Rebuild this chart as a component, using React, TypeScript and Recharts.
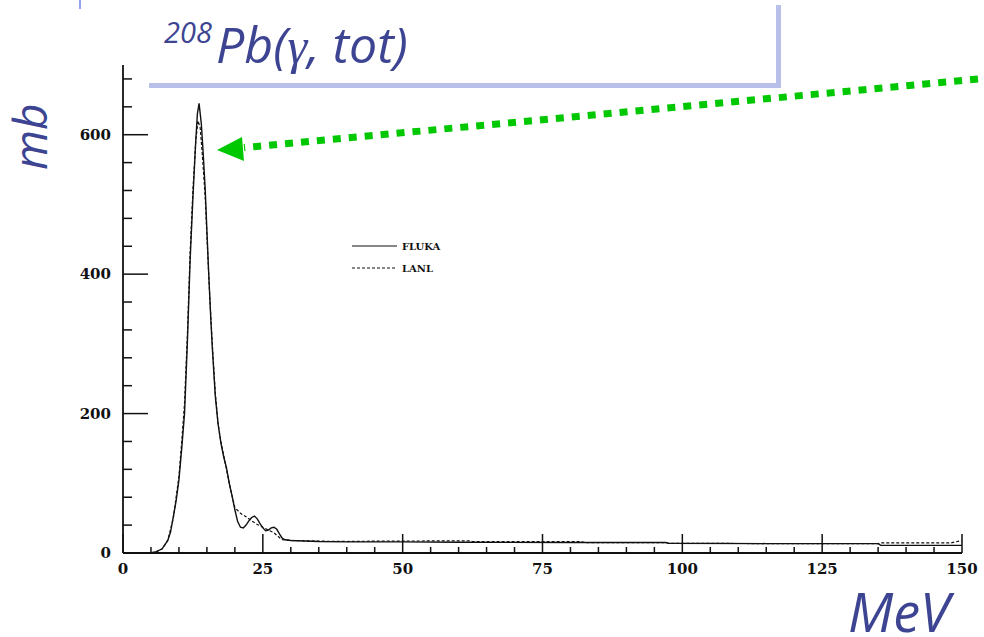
import React from 'react';
import { LineChart, Line, XAxis, YAxis, Legend } from 'recharts';

// ---- data (MeV, mb) ----
const flukaEnergy = [4.8, 6, 7, 8, 8.5, 9, 9.5, 10, 10.5, 11, 11.5, 12, 12.5, 13, 13.3, 13.6, 14, 14.3, 14.7, 15, 15.3, 15.7, 16, 16.5, 17, 17.5, 18, 18.5, 19, 19.5, 20, 20.5, 21, 21.5, 22, 22.5, 23, 23.5, 24, 24.5, 25, 25.5, 26, 26.5, 27, 27.5, 28, 28.5, 29, 30, 35, 40, 45, 50, 60, 80, 97, 97.5, 115, 135, 135.5, 150];
const flukaXs = [0, 2, 6, 18, 30, 52, 75, 105, 150, 200, 300, 420, 510, 590, 630, 645, 616, 578, 521, 463, 405, 335, 290, 225, 185, 158, 138, 122, 100, 82, 62, 45, 37, 36, 40, 46, 51, 53, 49, 42, 36, 32, 33, 36, 37, 34, 27, 21, 19, 18, 16.5, 16, 16, 16, 15.5, 15, 15, 14, 13.5, 13.5, 11, 11];

const lanlEnergy = [5, 6, 7, 8, 9, 10, 10.5, 11, 11.5, 12, 12.5, 13, 13.4, 13.8, 14.2, 14.7, 15, 15.5, 16, 16.5, 17, 17.5, 18, 18.5, 19, 19.5, 20, 21, 22, 23, 24, 25, 26, 27, 28, 28.5, 30, 35, 40, 45, 62, 62.5, 82, 82.5, 97, 97.5, 115, 135, 135.5, 148, 149.5, 150];
const lanlXs = [0, 2, 6, 18, 50, 110, 160, 215, 310, 430, 520, 590, 620, 610, 570, 510, 455, 370, 295, 230, 185, 160, 140, 120, 100, 82, 65, 57, 52, 46, 41, 37, 33, 29, 22, 19, 18, 17, 16.5, 17, 17.5, 16.5, 16.5, 15, 15, 14, 13.5, 13.5, 14.5, 14.5, 17, 17];

const xTicks = [0, 5, 10, 15, 20, 25, 30, 35, 40, 45, 50, 55, 60, 65, 70, 75, 80, 85, 90, 95, 100, 105, 110, 115, 120, 125, 130, 135, 140, 145, 150];
const yTicks = [0, 40, 80, 120, 160, 200, 240, 280, 320, 360, 400, 440, 480, 520, 560, 600, 640, 680];

const flukaData = flukaEnergy.map((e, i) => ({ e, v: flukaXs[i] }));
const lanlData = lanlEnergy.map((e, i) => ({ e, v: lanlXs[i] }));

const INK = '#111';
const BLUE = '#3d4593';
const tickFont = { fontFamily: '"DejaVu Serif", serif', fontWeight: 700, fontSize: 15, fill: INK } as const;

const BottomTick = (p: any) => {
  const { x, y, payload } = p;
  const major = payload.value % 25 === 0;
  return (
    <g>
      <line x1={x} y1={y} x2={x} y2={y - (major ? 19 : 6)} stroke={INK} strokeWidth={1.5} />
      {major && (
        <text x={x} y={y + 21} textAnchor="middle" {...tickFont}>{payload.value}</text>
      )}
    </g>
  );
};
const TopTick = (p: any) => {
  const { x, y, payload } = p;
  const major = payload.value % 25 === 0;
  return <line x1={x} y1={y} x2={x} y2={y + (major ? 19 : 6)} stroke={INK} strokeWidth={1.5} />;
};
const LeftTick = (p: any) => {
  const { x, y, payload } = p;
  const major = payload.value % 200 === 0;
  return (
    <g>
      <line x1={x} y1={y} x2={x + (major ? 25 : 9)} y2={y} stroke={INK} strokeWidth={1.5} />
      {major && (
        <text x={x - 12} y={y + 5} textAnchor="end" {...tickFont}>{payload.value}</text>
      )}
    </g>
  );
};
const RightTick = (p: any) => {
  const { x, y, payload } = p;
  const major = payload.value % 200 === 0;
  return <line x1={x} y1={y} x2={x - (major ? 25 : 9)} y2={y} stroke={INK} strokeWidth={1.5} />;
};

const dashFor: Record<string, string | undefined> = { FLUKA: undefined, LANL: '3 2' };

const LegendContent = (props: any) => {
  const items = (props.payload || []) as any[];
  const order = ['FLUKA', 'LANL'];
  const sorted = [...items].sort((a, b) => order.indexOf(a.value) - order.indexOf(b.value));
  return (
    <svg width={110} height={40}>
      {sorted.map((it, i) => (
        <g key={i} transform={`translate(0, ${8 + i * 22})`}>
          <line x1={2} y1={0} x2={47} y2={0} stroke={INK} strokeWidth={1.2} strokeDasharray={dashFor[it.value]} />
          <text x={52} y={4} fontFamily='"DejaVu Serif", serif' fontWeight={700} fontSize={10} fill={INK}>{it.value}</text>
        </g>
      ))}
    </svg>
  );
};

export default function App() {
  return (
    <div style={{ position: 'absolute', left: 0, top: 0, width: 984, height: 637, background: '#fff' }}>
      <LineChart width={984} height={637} margin={{ top: 65, right: 22, bottom: 0, left: 0 }}>
        <XAxis xAxisId="b" dataKey="e" type="number" domain={[0, 150]} ticks={xTicks} interval={0}
          height={84} tickSize={0} tickMargin={0} tickLine={false} tick={<BottomTick />}
          axisLine={{ stroke: INK, strokeWidth: 1.8 }} allowDataOverflow />
        <XAxis xAxisId="t" orientation="top" dataKey="e" type="number" domain={[0, 150]} ticks={xTicks} interval={0}
          height={0} tickSize={0} tickMargin={0} tickLine={false} tick={<TopTick />}
          axisLine={{ stroke: INK, strokeWidth: 1.8 }} allowDataOverflow />
        <YAxis yAxisId="l" type="number" domain={[0, 700]} ticks={yTicks} interval={0}
          width={123} tickSize={0} tickMargin={0} tickLine={false} tick={<LeftTick />}
          axisLine={{ stroke: INK, strokeWidth: 1.8 }} allowDataOverflow />
        <YAxis yAxisId="r" orientation="right" type="number" domain={[0, 700]} ticks={yTicks} interval={0}
          width={0} tickSize={0} tickMargin={0} tickLine={false} tick={<RightTick />}
          axisLine={{ stroke: INK, strokeWidth: 1.8 }} allowDataOverflow />
        <Line xAxisId="b" yAxisId="l" data={lanlData} dataKey="v" name="LANL" type="linear" stroke={INK}
          strokeWidth={1.2} strokeDasharray="3 2" dot={false} activeDot={false} isAnimationActive={false} />
        <Line xAxisId="b" yAxisId="l" data={flukaData} dataKey="v" name="FLUKA" type="linear" stroke={INK}
          strokeWidth={1.4} dot={false} activeDot={false} isAnimationActive={false} />
        <Legend content={<LegendContent />} layout="vertical" align="center" verticalAlign="middle"
          wrapperStyle={{ position: 'absolute', left: 350, top: 238, width: 110, height: 40 }} />
      </LineChart>
      <svg width={984} height={637} style={{ position: 'absolute', left: 0, top: 0, pointerEvents: 'none' }}>
        <line x1={80} y1={0} x2={80} y2={9} stroke="#6f84e0" strokeWidth={1.5} />
        <rect x={144} y={0} width={635} height={86} fill="#fff" />
        <line x1={149} y1={85.5} x2={781} y2={85.5} stroke="#b8c0ea" strokeWidth={5} />
        <line x1={778.5} y1={5} x2={778.5} y2={88} stroke="#b8c0ea" strokeWidth={5} />
        <text x={164} y={43} fontFamily='"Open Sans", sans-serif' fontStyle="italic" fontSize={29} fill={BLUE}>208</text>
        <text x={216} y={63} fontFamily='"Open Sans", sans-serif' fontStyle="italic" fontSize={50} fill={BLUE}>
          Pb(<tspan fontFamily='"Liberation Serif", serif'>γ</tspan>, tot)
        </text>
        <text transform="translate(47,170) rotate(-90)" fontFamily='"Open Sans", sans-serif' fontStyle="italic" fontSize={46} fill={BLUE}>mb</text>
        <text x={848} y={632} fontFamily='"Open Sans", sans-serif' fontStyle="italic" fontSize={54} fill={BLUE}>MeV</text>
        <line x1={978} y1={79} x2={244} y2={147.6} stroke="#00c800" strokeWidth={7} strokeDasharray="8 8" />
        <polygon points="217,150 242,137 244,161" fill="#00c800" />
      </svg>
    </div>
  );
}
